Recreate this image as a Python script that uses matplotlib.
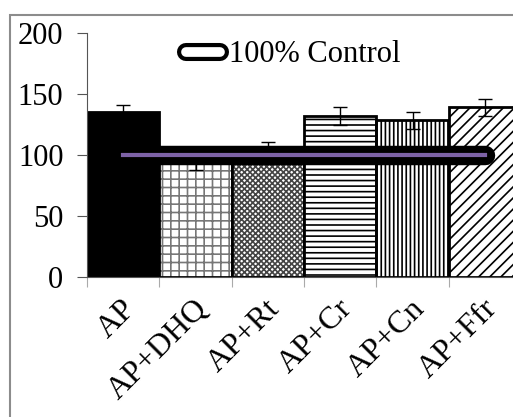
import numpy as np
import matplotlib.pyplot as plt
import matplotlib.patheffects as pe
from matplotlib.patches import Rectangle
from matplotlib.lines import Line2D

# data
groups = ["AP", "AP+DHQ", "AP+Rt", "AP+Cr", "AP+Cn", "AP+Ffr"]
values = [135, 97, 102, 132, 128.5, 139]
errors = [6, 9, 9, 7, 7, 7]
control = [100, 100, 100, 100, 100, 100]
hatches = [None, "++", "xxxxxx", "---", "||||", "///"]
hatch_colors = ["black", "#777777", "#444444", "black", "black", "black"]

plt.rcParams["font.family"] = ["Liberation Serif", "DejaVu Serif"]
plt.rcParams["hatch.linewidth"] = 1.2

fig = plt.figure(figsize=(5.13, 4.17), dpi=100)
fig.patches.append(Rectangle((10 / 513, -0.2), 1.2, 1.2 - 15 / 417, transform=fig.transFigure,
                             fill=False, edgecolor="#8c8c8c", linewidth=1.5))
ax = fig.add_axes([87 / 513, 140 / 417, 434 / 513, 244 / 417])

x = np.arange(len(groups))
for i in range(len(groups)):
    if hatches[i] is None:
        ax.bar(x[i], values[i], width=1.0, color="black", edgecolor="black", linewidth=2, zorder=2)
    else:
        ax.bar(x[i], values[i], width=1.0, color="white", edgecolor=hatch_colors[i],
               hatch=hatches[i], linewidth=0, zorder=2)
        ax.bar(x[i], values[i], width=1.0, fill=False, edgecolor="black", linewidth=2, zorder=2)
ax.errorbar(x, values, yerr=errors, fmt="none", ecolor="black",
            elinewidth=1, capsize=5, capthick=1, zorder=3)

# control line: thick black band with purple centre
ax.plot(x, control, color="black", linewidth=14, solid_capstyle="round", zorder=4)
ax.plot(x, control, color="#7d62a6", linewidth=3, zorder=5)

ax.set_xlim(-0.5, 5.5)
ax.set_ylim(0, 200)
ax.set_yticks([0, 50, 100, 150, 200])
ax.set_xticks(np.arange(-0.5, 5.6, 1.0))
ax.set_xticklabels([])
for i, g in enumerate(groups):
    ax.text(x[i] - 0.03, -14, g, rotation=45, ha="right", va="top",
            rotation_mode="anchor", fontsize=23, transform=ax.transData)
ax.tick_params(axis="y", labelsize=22, length=7, pad=10, color="#555555")
ax.tick_params(axis="x", length=7, color="#aaaaaa")
for s in ["top", "right"]:
    ax.spines[s].set_visible(False)
ax.spines["left"].set_color("#555555")
ax.spines["bottom"].set_color("#555555")

legend_handle = Line2D([0], [1], color="white", linewidth=7, solid_capstyle="round",
                       path_effects=[pe.Stroke(linewidth=13, foreground="black", capstyle="round"), pe.Normal()])
ax.legend([legend_handle], ["100% Control"], loc="upper left", bbox_to_anchor=(0.2, 1.02),
          frameon=False, fontsize=22, handlelength=1.1, handletextpad=0.3, borderaxespad=0)

fig.savefig("out.png", dpi=100)
